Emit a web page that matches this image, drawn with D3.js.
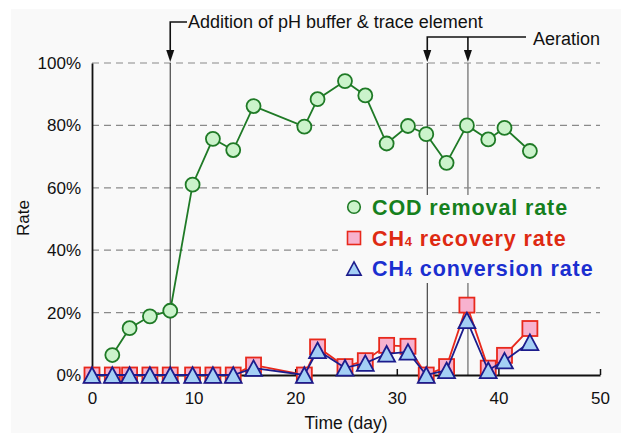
<!DOCTYPE html>
<html>
<head>
<meta charset="utf-8">
<script src="https://cdn.jsdelivr.net/npm/d3@7"></script>
<style>
  body { margin: 0; background: #fff; }
  svg { display: block; font-family: "Liberation Sans", Arial, Helvetica, sans-serif; }
</style>
</head>
<body>
<div id="chart"></div>
<script>
// sampling days (day)
const days = [0, 2, 3.7, 5.7, 7.7, 9.9, 11.9, 13.9, 15.9, 20.9, 22.2, 24.9, 26.9, 29, 31.1, 32.9, 34.9, 36.9, 39, 40.6, 43.1];
// rates in %
const codRemoval = [null, 6.4, 15, 18.8, 20.6, 61, 75.7, 72.1, 86.2, 79.6, 88.4, 94.2, 89.6, 74.2, 79.8, 77.2, 68, 80, 75.5, 79.2, 71.8];
const ch4Recovery = [0, 0, 0, 0, 0, 0, 0, 0, 3.2, 0, 9, 2.7, 4.6, 9.5, 9.2, 0, 2.7, 22.4, 2.2, 6.3, 14.9];
const ch4Conversion = [0, 0, 0, 0, 0, 0, 0, 0, 2.2, 0, 7.9, 2.3, 3.8, 6.8, 7.4, 0, 1.5, 17.5, 1.5, 4.6, 10.5];

const xTicks = [0, 10, 20, 30, 40, 50];
const yTicks = [0, 20, 40, 60, 80, 100];
const bufferDay = 7.7;
const aerationDays = [33, 37];

const width = 621, height = 433;
const margin = { top: 63, right: 21, bottom: 58, left: 92 };

const x = d3.scaleLinear().domain([0, 50]).range([margin.left, width - margin.right]);
const y = d3.scaleLinear().domain([0, 100]).range([height - margin.bottom, margin.top]);

const svg = d3.select("#chart").append("svg")
  .attr("width", width)
  .attr("height", height);

svg.append("rect")
  .attr("x", 11).attr("y", 9)
  .attr("width", width - 11).attr("height", height - 9)
  .attr("fill", "#f9f9f9");

// grid
svg.append("g")
  .selectAll("line")
  .data(yTicks.filter((d) => d > 0))
  .join("line")
  .attr("x1", x(0)).attr("x2", x(50))
  .attr("y1", (d) => y(d)).attr("y2", (d) => y(d))
  .attr("stroke", "#8a8a8a")
  .attr("stroke-width", 1.2)
  .attr("stroke-dasharray", "7,5");

// event lines
svg.append("line")
  .attr("x1", x(bufferDay)).attr("x2", x(bufferDay))
  .attr("y1", y(100)).attr("y2", y(0))
  .attr("stroke", "#222").attr("stroke-width", 1);
svg.append("g")
  .selectAll("line")
  .data(aerationDays)
  .join("line")
  .attr("x1", (d) => x(d)).attr("x2", (d) => x(d))
  .attr("y1", y(100)).attr("y2", y(0))
  .attr("stroke", (d, i) => (i === 0 ? "#222" : "#8c8c8c"))
  .attr("stroke-width", (d, i) => (i === 0 ? 1 : 1.6));

// legend backing (hides grid + event lines)
svg.append("rect")
  .attr("x", 338).attr("y", 195)
  .attr("width", 266).attr("height", 88)
  .attr("fill", "#f9f9f9");

// axes
const xAxis = svg.append("g")
  .attr("transform", `translate(0,${y(0)})`)
  .call(d3.axisBottom(x).tickValues(xTicks).tickSizeInner(-6).tickSizeOuter(0).tickPadding(17));
const yAxis = svg.append("g")
  .attr("transform", `translate(${x(0)},0)`)
  .call(d3.axisLeft(y).tickValues(yTicks).tickSize(0).tickPadding(11).tickFormat((d) => d + "%"));

[xAxis, yAxis].forEach((g) => {
  g.select(".domain").attr("stroke", "#111").attr("stroke-width", 1.8);
  g.selectAll(".tick line").attr("stroke", "#111").attr("stroke-width", 1.5);
  g.selectAll("text").attr("font-size", 17).attr("fill", "#111").attr("font-family", null);
});

svg.append("text")
  .attr("x", x(25)).attr("y", 429)
  .attr("text-anchor", "middle")
  .attr("font-size", 17.5).attr("fill", "#111")
  .text("Time (day)");
svg.append("text")
  .attr("transform", `translate(29,${y(50) - 1}) rotate(-90)`)
  .attr("text-anchor", "middle")
  .attr("font-size", 17).attr("fill", "#111")
  .text("Rate");

// annotations
function arrowHead(cx) {
  return `M${cx - 4},50 L${cx + 4},50 L${cx},62 Z`;
}
svg.append("path")
  .attr("d", `M${x(bufferDay)},52 V22 H187`)
  .attr("fill", "none").attr("stroke", "#111").attr("stroke-width", 1.6);
svg.append("path").attr("d", arrowHead(x(bufferDay))).attr("fill", "#111");
svg.append("text")
  .attr("x", 188).attr("y", 28)
  .attr("font-size", 18).attr("fill", "#111")
  .text("Addition of pH buffer & trace element");

svg.append("path")
  .attr("d", `M${x(aerationDays[0])},52 V37 H526 M${x(aerationDays[1])},52 V37`)
  .attr("fill", "none").attr("stroke", "#111").attr("stroke-width", 1.6);
aerationDays.forEach((d) => svg.append("path").attr("d", arrowHead(x(d))).attr("fill", "#111"));
svg.append("text")
  .attr("x", 533).attr("y", 45)
  .attr("font-size", 18).attr("fill", "#111")
  .text("Aeration");

// series
const codPts = days.map((d, i) => ({ d, v: codRemoval[i] })).filter((p) => p.v !== null);
const recPts = days.map((d, i) => ({ d, v: ch4Recovery[i] }));
const conPts = days.map((d, i) => ({ d, v: ch4Conversion[i] }));

const line = d3.line().x((p) => x(p.d)).y((p) => y(p.v));

svg.append("path").datum(codPts).attr("d", line)
  .attr("fill", "none").attr("stroke", "#1f7a26").attr("stroke-width", 1.8);
svg.append("g").selectAll("circle").data(codPts).join("circle")
  .attr("cx", (p) => x(p.d)).attr("cy", (p) => y(p.v)).attr("r", 7)
  .attr("fill", "#cbf3cb").attr("stroke", "#1f7a26").attr("stroke-width", 1.8);

svg.append("path").datum(recPts).attr("d", line)
  .attr("fill", "none").attr("stroke", "#e8291c").attr("stroke-width", 1.8);
svg.append("g").selectAll("rect").data(recPts).join("rect")
  .attr("x", (p) => x(p.d) - 7.5).attr("y", (p) => y(p.v) - 7.5)
  .attr("width", 15).attr("height", 15)
  .attr("fill", "#f7b2cf").attr("stroke", "#e8291c").attr("stroke-width", 1.8);

const tri = (cx, cy, s) => `M${cx},${cy - s} L${cx + s * 1.08},${cy + s} L${cx - s * 1.08},${cy + s} Z`;
svg.append("path").datum(conPts).attr("d", line)
  .attr("fill", "none").attr("stroke", "#1c1c8c").attr("stroke-width", 1.8);
svg.append("g").selectAll("path").data(conPts).join("path")
  .attr("d", (p) => tri(x(p.d), y(p.v), 7.8))
  .attr("fill", "#a4cff5").attr("stroke", "#1c1c8c").attr("stroke-width", 1.8)
  .attr("stroke-linejoin", "miter");

// legend
const legend = svg.append("g").attr("font-weight", "bold").attr("font-size", 21.5).attr("letter-spacing", 0.9);
legend.append("circle").attr("cx", 354).attr("cy", 207).attr("r", 6.3)
  .attr("fill", "#cbf3cb").attr("stroke", "#1f7a26").attr("stroke-width", 1.6);
legend.append("text").attr("x", 372).attr("y", 214.5).attr("fill", "#16801d").text("COD removal rate");

legend.append("rect").attr("x", 347.5).attr("y", 231.5).attr("width", 13).attr("height", 13)
  .attr("fill", "#f7b2cf").attr("stroke", "#e8291c").attr("stroke-width", 1.6);
const t2 = legend.append("text").attr("x", 372).attr("y", 246).attr("fill", "#de2a12");
t2.append("tspan").text("CH");
t2.append("tspan").attr("font-size", 13).text("4");
t2.append("tspan").text(" recovery rate");

legend.append("path").attr("d", tri(354, 268.5, 6.6))
  .attr("fill", "#a4cff5").attr("stroke", "#1c1c8c").attr("stroke-width", 1.6);
const t3 = legend.append("text").attr("x", 372).attr("y", 275.5).attr("fill", "#1b2fd0");
t3.append("tspan").text("CH");
t3.append("tspan").attr("font-size", 13).text("4");
t3.append("tspan").text(" conversion rate");
</script>
</body>
</html>
